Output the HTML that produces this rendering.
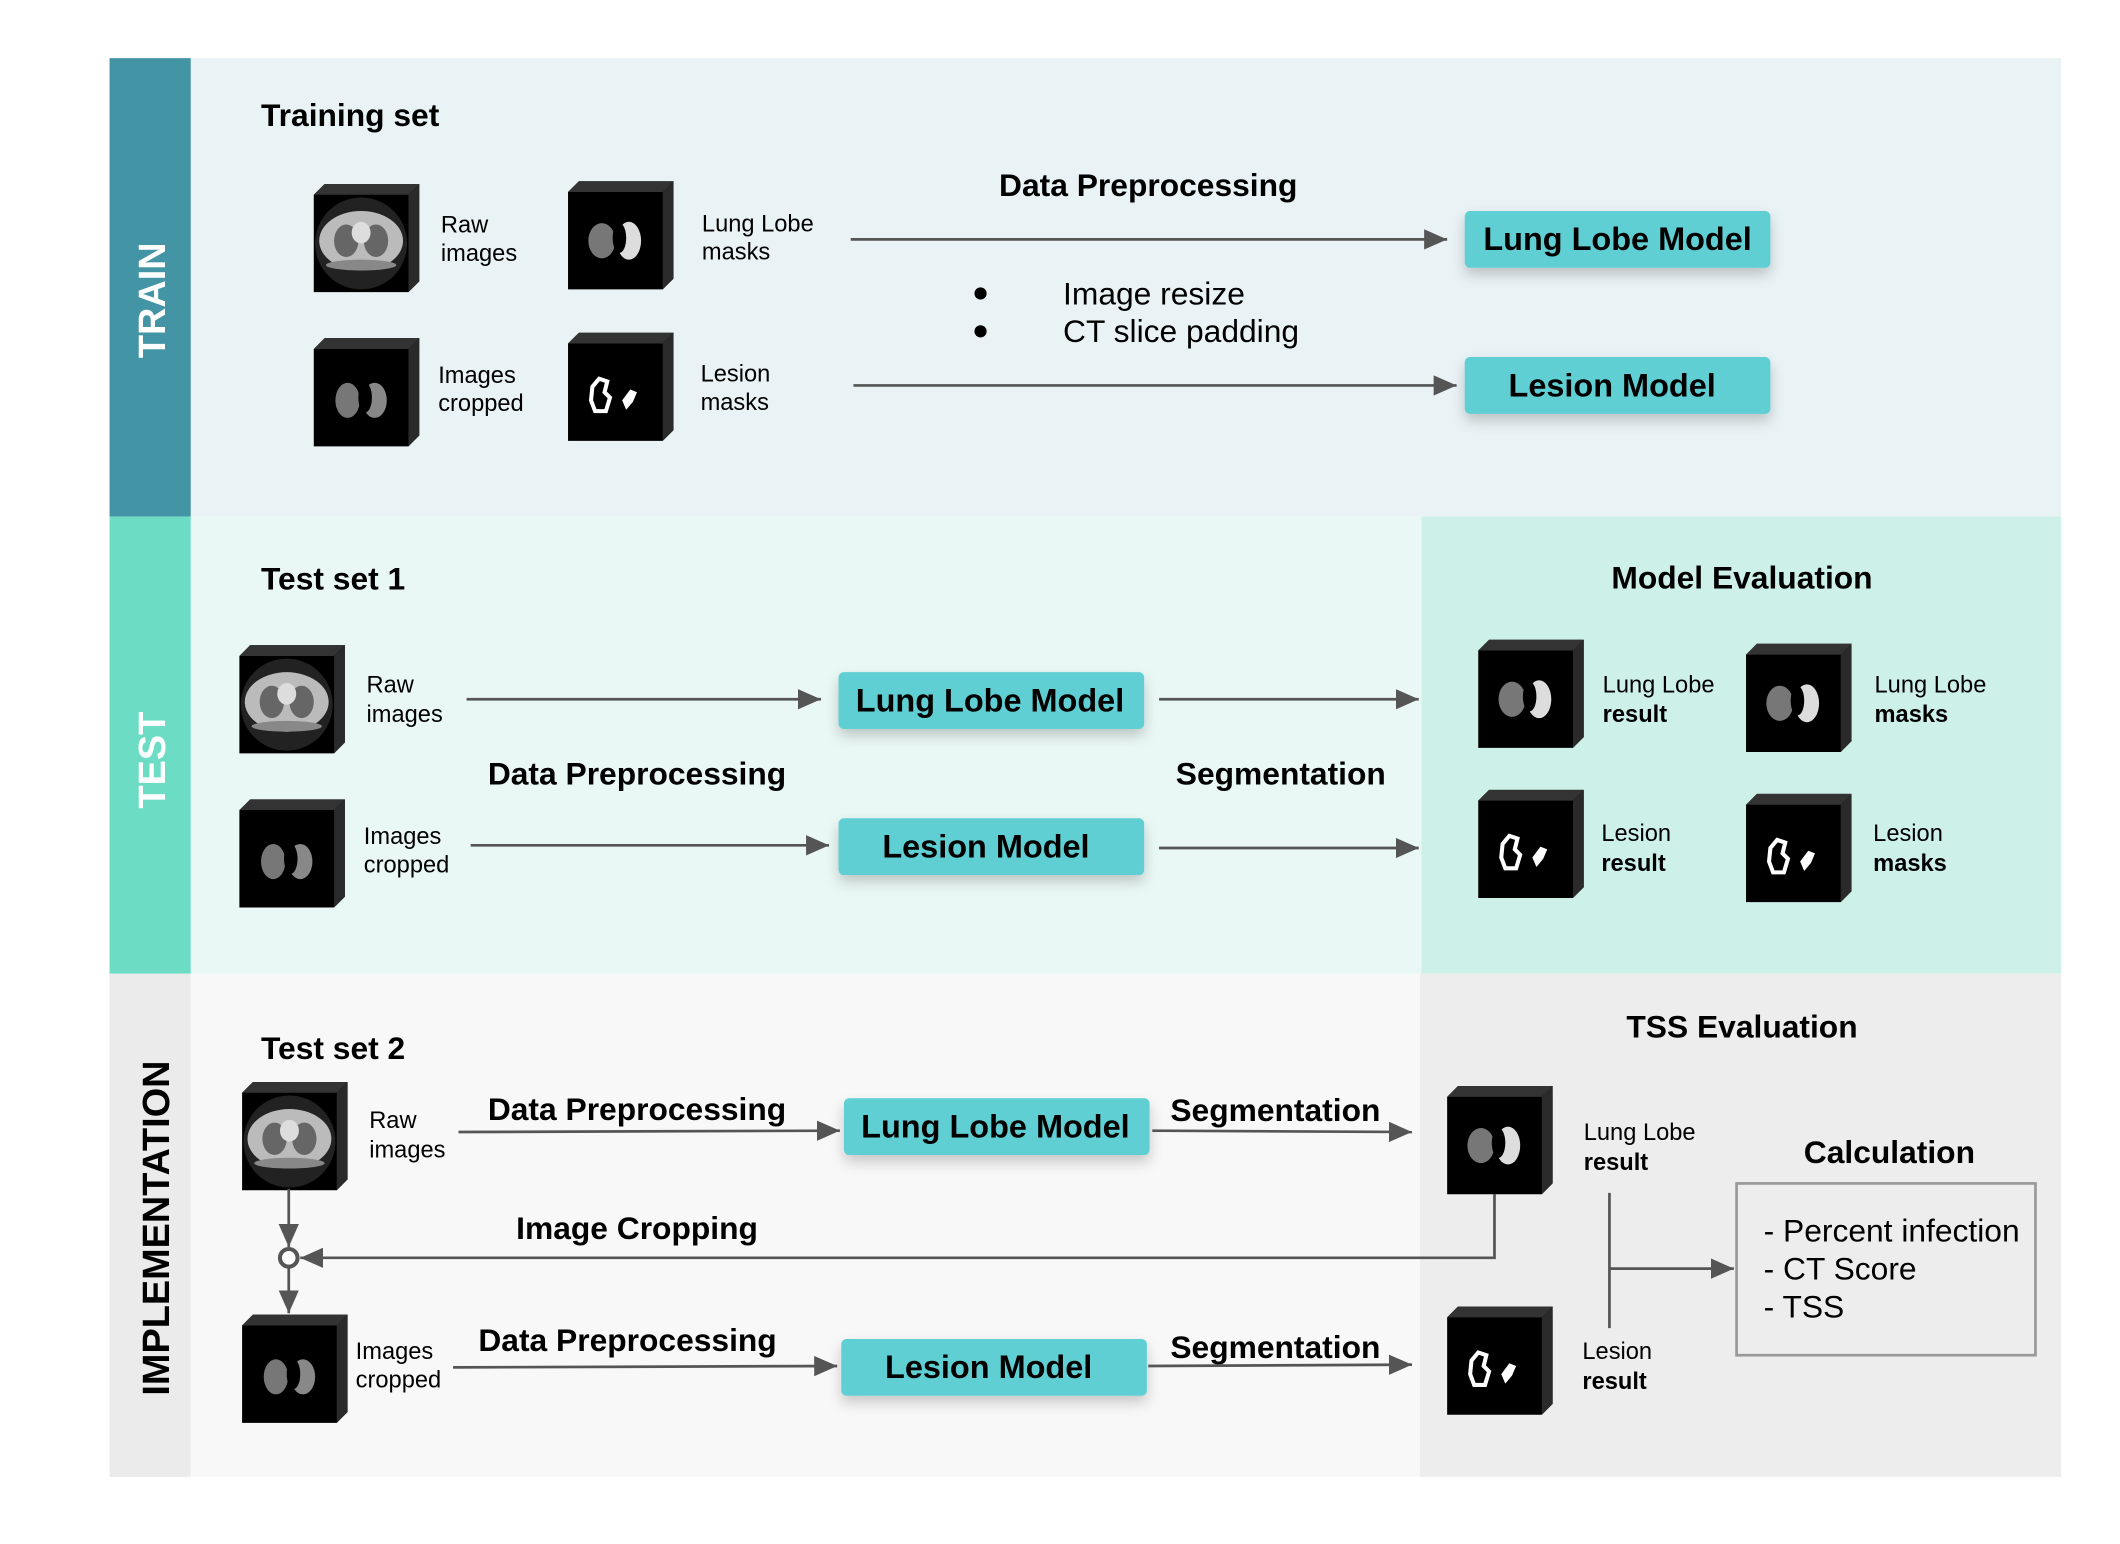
<!DOCTYPE html>
<html><head><meta charset="utf-8"><style>
html,body{margin:0;padding:0;background:#fff}
svg{display:block}
text{font-family:"Liberation Sans",Arial,sans-serif}
.t{font-weight:bold;font-size:23.5px}
.l{font-size:17.5px}
.m{font-weight:bold;font-size:24px}
.ln{stroke:#555;stroke-width:2;fill:none}
</style></head><body>
<svg width="2120" height="1544" viewBox="0 0 1567.5 1141.6" preserveAspectRatio="none" xmlns="http://www.w3.org/2000/svg">
<defs>
<marker id="ar" viewBox="0 0 10 10" refX="10" refY="5" markerWidth="17" markerHeight="15" markerUnits="userSpaceOnUse" orient="auto" preserveAspectRatio="none"><path d="M0,0L10,5L0,10z" fill="#555"/></marker>
<filter id="sh" x="-20%" y="-40%" width="140%" height="200%"><feDropShadow dx="0" dy="5" stdDeviation="5" flood-color="#000" flood-opacity="0.2"/></filter>
<g id="box"><path d="M0,80L0,8L8,0L78,0L78,72L70,80Z" fill="#000"/><path d="M0,8L8,0L78,0L70,8Z" fill="#333"/><path d="M70,8L78,0L78,72L70,80Z" fill="#2a2a2a"/></g>
<g id="raw"><use href="#box"/><circle cx="35" cy="44" r="34" fill="#222"/><ellipse cx="35" cy="42" rx="31" ry="22" fill="#bbb"/><ellipse cx="35" cy="60" rx="26" ry="4" fill="#888"/><ellipse cx="24" cy="42" rx="9" ry="12" fill="#666"/><ellipse cx="46" cy="42" rx="9" ry="12" fill="#666"/><ellipse cx="35" cy="36" rx="7" ry="8" fill="#ddd"/></g>
<g id="lobe"><use href="#box"/><ellipse cx="25" cy="44" rx="10" ry="13" fill="#777"/><ellipse cx="45" cy="44" rx="9" ry="14" fill="#ddd"/><ellipse cx="38" cy="42" rx="5" ry="11" fill="#000"/></g>
<g id="crop"><use href="#box"/><ellipse cx="25" cy="46" rx="9" ry="13" fill="#777"/><ellipse cx="45" cy="46" rx="9" ry="13" fill="#888"/><ellipse cx="38" cy="44" rx="5" ry="11" fill="#000"/></g>
<g id="les"><use href="#box"/><path d="M18,40l5,-6l6,2l-2,8l4,4l-3,10l-8,0l-3,-8z" fill="none" stroke="#fff" stroke-width="3"/><path d="M40,50l6,-8l5,2l-3,7l-5,6z" fill="#fff"/></g>
</defs>
<!-- bands -->
<rect x="81" y="43" width="1443" height="339" fill="#e9f2f5"/>
<rect x="81" y="43" width="60" height="339" fill="#4394a4"/>
<rect x="81" y="382" width="1443" height="338" fill="#eaf8f5"/>
<rect x="1051" y="382" width="473" height="338" fill="#cdf1e9"/>
<rect x="81" y="382" width="60" height="338" fill="#6ddcc5"/>
<rect x="81" y="720" width="1443" height="372" fill="#f8f8f8"/>
<rect x="1050" y="720" width="474" height="372" fill="#ededed"/>
<rect x="81" y="720" width="60" height="372" fill="#ebebeb"/>
<text transform="translate(122,222) rotate(-90)" text-anchor="middle" font-size="28" font-weight="bold" fill="#fff">TRAIN</text>
<text transform="translate(122,562) rotate(-90)" text-anchor="middle" font-size="28" font-weight="bold" fill="#fff">TEST</text>
<text transform="translate(125,908) rotate(-90)" text-anchor="middle" font-size="28" font-weight="bold" fill="#000">IMPLEMENTATION</text>

<!-- TRAIN -->
<text class="t" x="193" y="93">Training set</text>
<use href="#raw" x="232" y="136"/>
<use href="#lobe" x="420" y="134"/>
<use href="#crop" x="232" y="250"/>
<use href="#les" x="420" y="246"/>
<text class="l" x="326" y="172">Raw</text><text class="l" x="326" y="193">images</text>
<text class="l" x="519" y="171">Lung Lobe</text><text class="l" x="519" y="192">masks</text>
<text class="l" x="324" y="283">Images</text><text class="l" x="324" y="304">cropped</text>
<text class="l" x="518" y="282">Lesion</text><text class="l" x="518" y="303">masks</text>
<text class="t" x="849" y="145" text-anchor="middle">Data Preprocessing</text>
<circle cx="725" cy="217" r="4.5" fill="#000"/><circle cx="725" cy="245" r="4.5" fill="#000"/>
<text x="786" y="225" font-size="23.5">Image resize</text>
<text x="786" y="253" font-size="23.5">CT slice padding</text>
<line class="ln" x1="629" y1="177" x2="1070" y2="177" marker-end="url(#ar)"/>
<line class="ln" x1="631" y1="285" x2="1077" y2="285" marker-end="url(#ar)"/>
<rect x="1083" y="156" width="226" height="42" rx="4" fill="#5ecfd3" filter="url(#sh)"/>
<text class="m" x="1196" y="185" text-anchor="middle">Lung Lobe Model</text>
<rect x="1083" y="264" width="226" height="42" rx="4" fill="#5ecfd3" filter="url(#sh)"/>
<text class="m" x="1192" y="293" text-anchor="middle">Lesion Model</text>

<!-- TEST -->
<text class="t" x="193" y="436">Test set 1</text>
<use href="#raw" x="177" y="477"/>
<use href="#crop" x="177" y="591"/>
<text class="l" x="271" y="512">Raw</text><text class="l" x="271" y="534">images</text>
<text class="l" x="269" y="624">Images</text><text class="l" x="269" y="645">cropped</text>
<line class="ln" x1="345" y1="517" x2="607" y2="517" marker-end="url(#ar)"/>
<line class="ln" x1="348" y1="625" x2="613" y2="625" marker-end="url(#ar)"/>
<text class="t" x="471" y="580" text-anchor="middle">Data Preprocessing</text>
<rect x="620" y="497" width="226" height="42" rx="4" fill="#5ecfd3" filter="url(#sh)"/>
<text class="m" x="732" y="526" text-anchor="middle">Lung Lobe Model</text>
<rect x="620" y="605" width="226" height="42" rx="4" fill="#5ecfd3" filter="url(#sh)"/>
<text class="m" x="729" y="634" text-anchor="middle">Lesion Model</text>
<line class="ln" x1="857" y1="517" x2="1049" y2="517" marker-end="url(#ar)"/>
<line class="ln" x1="857" y1="627" x2="1049" y2="627" marker-end="url(#ar)"/>
<text class="t" x="947" y="580" text-anchor="middle">Segmentation</text>
<text class="t" x="1288" y="435" text-anchor="middle">Model Evaluation</text>
<use href="#lobe" x="1093" y="473"/>
<use href="#lobe" x="1291" y="476"/>
<use href="#les" x="1093" y="584"/>
<use href="#les" x="1291" y="587"/>
<text class="l" x="1185" y="512">Lung Lobe</text><text class="l" x="1185" y="534" font-weight="bold">result</text>
<text class="l" x="1386" y="512">Lung Lobe</text><text class="l" x="1386" y="534" font-weight="bold">masks</text>
<text class="l" x="1184" y="622">Lesion</text><text class="l" x="1184" y="644" font-weight="bold">result</text>
<text class="l" x="1385" y="622">Lesion</text><text class="l" x="1385" y="644" font-weight="bold">masks</text>

<!-- IMPLEMENTATION -->
<text class="t" x="193" y="783">Test set 2</text>
<use href="#raw" x="179" y="800"/>
<use href="#crop" x="179" y="972"/>
<text class="l" x="273" y="834">Raw</text><text class="l" x="273" y="856">images</text>
<text class="l" x="263" y="1005">Images</text><text class="l" x="263" y="1026">cropped</text>
<text class="t" x="471" y="828" text-anchor="middle">Data Preprocessing</text>
<line class="ln" x1="339" y1="837" x2="621" y2="836" marker-end="url(#ar)"/>
<rect x="624" y="812" width="226" height="42" rx="4" fill="#5ecfd3" filter="url(#sh)"/>
<text class="m" x="736" y="841" text-anchor="middle">Lung Lobe Model</text>
<text class="t" x="943" y="829" text-anchor="middle">Segmentation</text>
<line class="ln" x1="852" y1="836" x2="1044" y2="837" marker-end="url(#ar)"/>
<text class="t" x="471" y="916" text-anchor="middle">Image Cropping</text>
<polyline class="ln" points="1105,883 1105,930 222,930" marker-end="url(#ar)"/>
<circle cx="213.5" cy="930" r="6.5" fill="#fff" stroke="#555" stroke-width="3"/>
<line class="ln" x1="213.5" y1="879" x2="213.5" y2="922" marker-end="url(#ar)"/>
<line class="ln" x1="213.5" y1="937" x2="213.5" y2="971" marker-end="url(#ar)"/>
<text class="t" x="464" y="999" text-anchor="middle">Data Preprocessing</text>
<line class="ln" x1="335" y1="1011" x2="619" y2="1010" marker-end="url(#ar)"/>
<rect x="622" y="990" width="226" height="42" rx="4" fill="#5ecfd3" filter="url(#sh)"/>
<text class="m" x="731" y="1019" text-anchor="middle">Lesion Model</text>
<text class="t" x="943" y="1004" text-anchor="middle">Segmentation</text>
<line class="ln" x1="849" y1="1010" x2="1044" y2="1009" marker-end="url(#ar)"/>
<text class="t" x="1288" y="767" text-anchor="middle">TSS Evaluation</text>
<use href="#lobe" x="1070" y="803"/>
<use href="#les" x="1070" y="966"/>
<text class="l" x="1171" y="843">Lung Lobe</text><text class="l" x="1171" y="865" font-weight="bold">result</text>
<text class="l" x="1170" y="1005">Lesion</text><text class="l" x="1170" y="1027" font-weight="bold">result</text>
<line class="ln" x1="1190" y1="882" x2="1190" y2="982"/>
<line class="ln" x1="1190" y1="938" x2="1282" y2="938" marker-end="url(#ar)"/>
<text class="t" x="1397" y="860" text-anchor="middle">Calculation</text>
<rect x="1284" y="875" width="221" height="127" fill="none" stroke="#999" stroke-width="2"/>
<text x="1304" y="918" font-size="23.5">- Percent infection</text>
<text x="1304" y="946" font-size="23.5">- CT Score</text>
<text x="1304" y="974" font-size="23.5">- TSS</text>
</svg>
</body></html>
